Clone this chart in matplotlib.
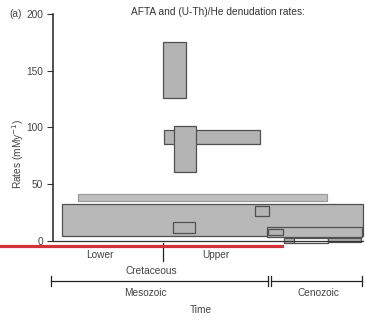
import matplotlib
matplotlib.use("Agg")
import matplotlib.pyplot as plt
from matplotlib.patches import Rectangle

plt.rcParams['font.family'] = ['Liberation Sans', 'DejaVu Sans']

# denudation rate boxes: (time start, time end, rate low, rate high)
# time is on a relative 0-100 scale across the plotted interval
box_t0 = [2.8, 35.9, 39.1, 35.4, 38.6, 65.3, 69.1, 69.5, 74.5, 77.8, 88.6]
box_t1 = [99.9, 66.8, 46.0, 42.8, 45.7, 69.7, 99.7, 74.1, 77.8, 88.6, 99.5]
box_lo = [4.4, 85.2, 60.4, 126.2, 6.5, 21.8, 3.5, 4.8, -1.8, -1.8, -1.0]
box_hi = [32.4, 97.7, 101.5, 175.4, 16.2, 30.9, 11.8, 10.1, 2.6, 2.6, 2.2]
box_fill = ['#b8b8b8', '#b4b4b4', '#b4b4b4', '#b4b4b4', '#b4b4b4', '#b4b4b4',
            '#b8b8b8', '#b4b4b4', '#b4b4b4', '#ffffff', '#b4b4b4']

# long thin band
band_t = [8.0, 88.4]
band_r = [35.4, 40.9]

yticks = [0, 50, 100, 150, 200]
cretaceous_split = 35.4
mesozoic = [-0.7, 69.4]
cenozoic = [70.2, 99.7]

fs = 7.3
fig = plt.figure(figsize=(3.65, 3.22), dpi=100)
ax = fig.add_axes([0.1452, 0.2525, 0.8493, 0.704])
ax.set_xlim(0, 100)
ax.set_ylim(0, 200)

ax.add_patch(Rectangle((band_t[0], band_r[0]), band_t[1] - band_t[0], band_r[1] - band_r[0],
                       facecolor='#c0c0c0', edgecolor='#9a9a9a', lw=0.9, clip_on=False))
for t0, t1, lo, hi, fc in zip(box_t0, box_t1, box_lo, box_hi, box_fill):
    ax.add_patch(Rectangle((t0, lo), t1 - t0, hi - lo, facecolor=fc,
                           edgecolor='#505050', lw=0.9, clip_on=False))

for s in ['top', 'right']:
    ax.spines[s].set_visible(False)
ax.spines['left'].set_linewidth(1.1)
ax.spines['left'].set_color('#222222')
ax.spines['bottom'].set_linewidth(0.9)
ax.spines['bottom'].set_color('#333333')
ax.set_xticks([])
ax.set_yticks(yticks)
ax.tick_params(axis='y', length=4, width=0.8, colors='#333333', labelsize=fs,
               labelcolor='#444444', pad=3)

fig.text(0.05, 0.523, 'Rates (mMy$^{-1}$)', rotation=90, fontsize=fs,
         color='#444444', ha='center', va='center')
fig.text(0.027, 0.955, '(a)', fontsize=fs, color='#444444', ha='left', va='center')
fig.text(0.597, 0.962, 'AFTA and (U-Th)/He denudation rates:', fontsize=fs,
         color='#333333', ha='center', va='center')

# time scale below the axis
tr = ax.get_xaxis_transform()
kw = dict(transform=tr, clip_on=False, color='#222222', lw=0.9)
ax.plot([cretaceous_split, cretaceous_split], [-0.010, -0.09], **kw)
txt = dict(transform=tr, fontsize=fs, color='#444444', ha='center', va='center')
ax.text(15.2, -0.063, 'Lower', **txt)
ax.text(52.6, -0.063, 'Upper', **txt)
ax.text(31.6, -0.132, 'Cretaceous', **txt)
for a, b in [mesozoic, cenozoic]:
    ax.plot([a, b], [-0.178, -0.178], **kw)
    ax.plot([a, a], [-0.156, -0.2], **kw)
    ax.plot([b, b], [-0.156, -0.2], **kw)
ax.text(29.7, -0.231, 'Mesozoic', **txt)
ax.text(85.5, -0.231, 'Cenozoic', **txt)
ax.text(47.7, -0.306, 'Time', **txt)

fig.add_artist(plt.Line2D([0, 282 / 365], [1 - 245.5 / 322] * 2, color='#d2323a', lw=2.3,
                          transform=fig.transFigure))

fig.savefig('out.png', dpi=100)
